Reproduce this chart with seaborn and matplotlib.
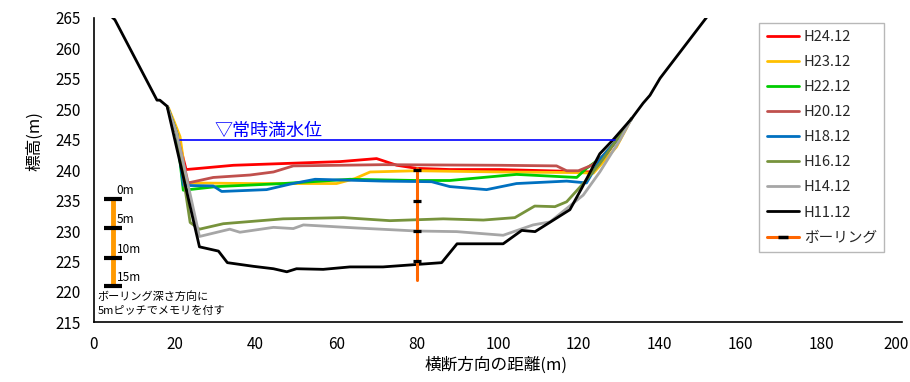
import matplotlib
matplotlib.use("Agg")
import matplotlib.pyplot as plt
import matplotlib.transforms as mtransforms
from matplotlib.lines import Line2D
import pandas as pd
import seaborn as sns

# ---- cross-section survey lines (distance m, elevation m) ----
h24_x = [18.3, 20.6, 22.9, 26.3, 34.6, 51.9, 60.9, 70.0, 75.0, 79.9, 88.1, 100.5, 123.6, 129.0, 133.1]
h24_y = [250.4, 246.0, 240.1, 240.3, 240.8, 241.2, 241.4, 241.9, 240.8, 240.3, 240.1, 240.1, 239.7, 244.6, 248.5]

h23_x = [18.5, 20.1, 21.4, 22.1, 22.6, 23.4, 38.7, 60.1, 64.6, 68.4, 79.9, 100.5, 119.5, 123.6, 129.3, 131.8, 132.6]
h23_y = [250.3, 247.7, 245.5, 242.2, 238.1, 237.9, 237.8, 237.8, 238.6, 239.7, 239.9, 239.7, 239.6, 239.5, 243.8, 246.9, 248.0]

h22_x = [18.3, 20.6, 22.2, 30.5, 46.9, 63.4, 79.9, 88.1, 104.6, 119.5, 121.9, 125.5, 129.0, 133.1]
h22_y = [250.4, 246.0, 236.7, 237.3, 237.8, 238.5, 238.3, 238.3, 239.3, 238.8, 240.3, 242.0, 244.6, 248.5]

h20_x = [18.3, 20.6, 23.4, 29.6, 38.7, 44.5, 49.4, 71.6, 100.5, 114.5, 117.0, 119.9, 123.2, 125.5, 129.0, 133.1]
h20_y = [250.4, 246.0, 237.9, 238.8, 239.2, 239.7, 240.7, 240.9, 240.8, 240.7, 239.9, 239.9, 240.8, 242.0, 244.6, 248.5]

h18_x = [18.3, 20.6, 22.2, 29.6, 31.7, 42.8, 48.6, 54.8, 71.6, 83.6, 88.1, 97.2, 104.6, 117.0, 121.9, 125.5, 129.0, 133.1]
h18_y = [250.4, 246.0, 237.5, 237.4, 236.5, 236.8, 237.7, 238.5, 238.2, 238.1, 237.3, 236.8, 237.8, 238.2, 237.9, 242.0, 244.6, 248.5]

h16_x = [18.3, 20.6, 22.4, 23.9, 26.2, 32.1, 46.9, 61.8, 73.3, 86.5, 96.4, 104.2, 109.1, 114.1, 117.0, 121.5, 125.2, 129.0, 133.1]
h16_y = [250.4, 246.0, 238.0, 231.4, 230.3, 231.2, 232.0, 232.2, 231.7, 232.0, 231.8, 232.2, 234.1, 234.0, 234.8, 238.1, 241.1, 244.6, 248.5]

h14_x = [18.3, 20.6, 26.2, 33.7, 36.2, 44.5, 49.4, 51.9, 65.1, 79.9, 89.8, 101.3, 108.7, 112.9, 121.1, 125.2, 130.2, 133.1]
h14_y = [250.4, 246.0, 229.1, 230.3, 229.8, 230.6, 230.4, 231.0, 230.5, 230.0, 229.9, 229.3, 231.0, 231.5, 235.9, 239.7, 245.0, 248.5]

h11_x = [4.5, 5.3, 15.7, 16.4, 18.2, 26.2, 30.9, 33.1, 39.5, 44.5, 47.8, 50.2, 56.8, 63.4, 71.6, 79.9,
         86.1, 89.9, 101.3, 105.9, 109.2, 117.8, 120.7, 125.2, 128.5, 133.1, 135.9, 137.6, 140.1, 151.6]
h11_y = [265.2, 264.7, 251.5, 251.5, 250.5, 227.4, 226.7, 224.8, 224.2, 223.8, 223.3, 223.8, 223.7, 224.1, 224.1, 224.5,
         224.8, 227.9, 227.9, 230.1, 229.9, 233.5, 237.0, 242.7, 245.0, 248.5, 251.0, 252.3, 255.1, 265.1]

survey_names = ["H24.12", "H23.12", "H22.12", "H20.12", "H18.12", "H16.12", "H14.12", "H11.12"]
survey_colors = ["#ff0000", "#ffc000", "#00cc00", "#c0504d", "#0070c0", "#77933c", "#a6a6a6", "#000000"]
survey_xs = [h24_x, h23_x, h22_x, h20_x, h18_x, h16_x, h14_x, h11_x]
survey_ys = [h24_y, h23_y, h22_y, h20_y, h18_y, h16_y, h14_y, h11_y]

# normal full water level
water_level = 245.0
water_x = [21.4, 128.9]
water_label = "▽常時満水位"

# boring log at 80 m, graduated every 5 m
boring_x = 80.0
boring_top = 240.3
boring_bottom = 221.9
boring_marks = [240.0, 235.0, 230.0, 225.0]
boring_label = "ボーリング"

# explanatory depth scale
scale_x = 4.9
scale_marks = [235.2, 230.5, 225.6, 220.9]
scale_labels = ["0m", "5m", "10m", "15m"]
scale_note = ["ボーリング深さ方向に", "5mピッチでメモリを付す"]

x_ticks = list(range(0, 201, 20))
y_ticks = list(range(215, 266, 5))

# ---- style ----
sns.set_theme(style="white")
plt.rcParams["font.family"] = ["Noto Sans CJK JP", "DejaVu Sans"]

W, H = 910, 382
fig = plt.figure(figsize=(W / 100, H / 100), dpi=100)
ax = fig.add_axes([93.5 / W, 1 - 322.3 / H, (902.3 - 93.5) / W, (322.3 - 18.0) / H])

rows = []
for name, xs, ys in zip(survey_names, survey_xs, survey_ys):
    for i, (xv, yv) in enumerate(zip(xs, ys)):
        rows.append({"survey": name, "order": i, "distance": xv, "elevation": yv})
df = pd.DataFrame(rows)

palette = dict(zip(survey_names, survey_colors))
sns.lineplot(data=df, x="distance", y="elevation", hue="survey", hue_order=survey_names,
             palette=palette, sort=False, estimator=None, linewidth=2.0, legend=False, ax=ax)

# water level line and label
sns.lineplot(x=water_x, y=[water_level, water_level], color="#0000ff", linewidth=1.2, ax=ax)
ax.text(30.0, 246.5, water_label, color="#0000ff", fontsize=13, va="center", ha="left")

# boring log
sns.lineplot(x=[boring_x, boring_x], y=[boring_top, boring_bottom], sort=False, estimator=None,
             color="#ff6600", linewidth=2.2, ax=ax)
ax.plot([boring_x] * len(boring_marks), boring_marks, linestyle="none", marker="_",
        markersize=5.5, markeredgewidth=2.3, color="black")

# depth scale
ax.plot([scale_x, scale_x], [scale_marks[0], scale_marks[-1]], color="#ff9900", linewidth=3.5,
        solid_capstyle="butt")
ax.plot([scale_x] * len(scale_marks), scale_marks, linestyle="none", marker="_",
        markersize=12.5, markeredgewidth=3.0, color="black")
for yv, lab in zip(scale_marks, scale_labels):
    ax.text(scale_x + 0.8, yv + 1.4, lab, fontsize=8.5, ha="left", va="center", color="#000000")
ax.text(1.0, 219.3, scale_note[0], fontsize=8, ha="left", va="center", color="#000000")
ax.text(1.0, 216.8, scale_note[1], fontsize=8, ha="left", va="center", color="#000000")

# axes
ax.set_xlim(0, 200)
ax.set_ylim(215, 265)
ax.set_xticks(x_ticks)
ax.set_yticks(y_ticks)
ax.tick_params(axis="both", direction="in", length=4, width=0.8, color="#bfbfbf",
               labelsize=11, labelcolor="#000000")
ax.tick_params(axis="y", pad=9)
ax.tick_params(axis="x", pad=10)
# keep the last distance label inside the canvas
last_lab = ax.get_xticklabels()[-1]
last_lab.set_transform(last_lab.get_transform() +
                       mtransforms.ScaledTranslation(-6 / 100, 0, fig.dpi_scale_trans))
for side in ["top", "right"]:
    ax.spines[side].set_visible(False)
for side in ["left", "bottom"]:
    ax.spines[side].set_color("#000000")
    ax.spines[side].set_linewidth(1.2)
ax.set_xlabel("横断方向の距離(m)", fontsize=12, color="#000000")
ax.set_ylabel("標高(m)", fontsize=12, color="#000000")
ax.xaxis.label.set_va("center")
ax.xaxis.set_label_coords((496 - 93.5) / 808.8, (322.3 - 365) / 304.3)
ax.yaxis.label.set_va("center")
ax.yaxis.label.set_ha("center")
ax.yaxis.set_label_coords((35 - 93.5) / 808.8, (322.3 - 141) / 304.3)

# legend
handles = [Line2D([], [], color=c, linewidth=2.0) for c in survey_colors]
handles.append(Line2D([], [], color="#ff6600", linewidth=2.2, marker="_",
                      markeredgecolor="black", markersize=7, markeredgewidth=2.5))
labels = survey_names + [boring_label]
leg = ax.legend(handles, labels, loc="upper left", numpoints=1,
                bbox_to_anchor=(759.3 / W, 1 - 22.7 / H), bbox_transform=fig.transFigure,
                frameon=True, fancybox=False, edgecolor="#a6a6a6", borderaxespad=0,
                handlelength=2.25, handletextpad=0.3, labelspacing=0.76, fontsize=10.5,
                borderpad=0.5)
leg.get_frame().set_linewidth(1.0)

fig.savefig("out.png", dpi=100)
